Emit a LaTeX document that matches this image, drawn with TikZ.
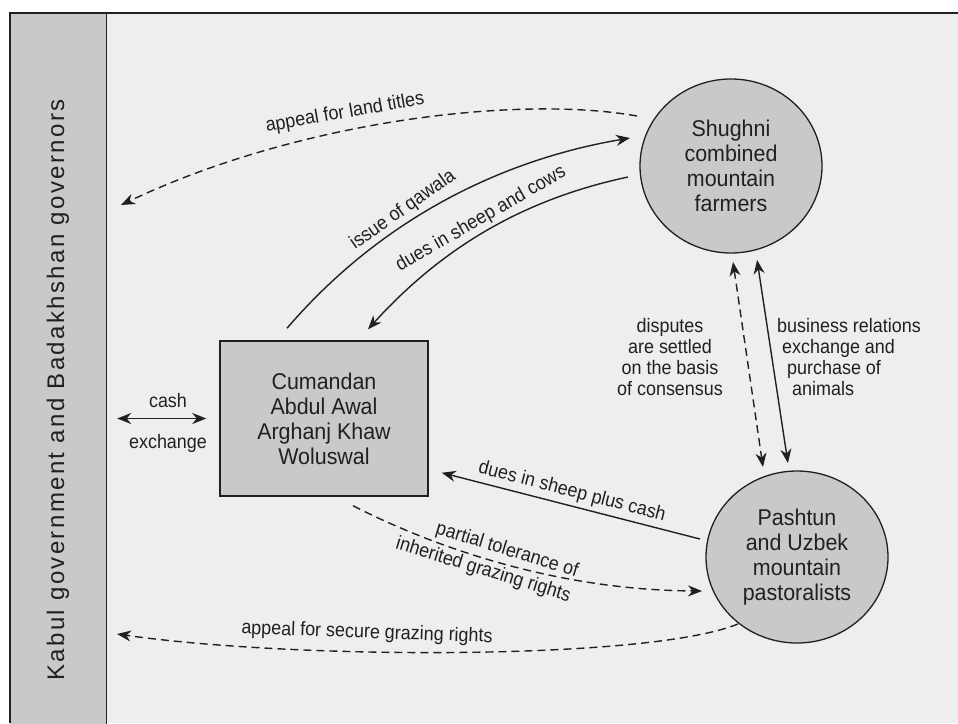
\documentclass[tikz,border=0pt]{standalone}
\usepackage{fontspec}
\setmainfont{Liberation Sans}
\newfontfamily\labfont[FakeStretch=0.92]{Liberation Sans}
\newfontfamily\nodefont[FakeStretch=0.94]{Liberation Sans}
\usetikzlibrary{arrows.meta,shapes.geometric,calc}
\definecolor{bg}{RGB}{238,238,238}
\definecolor{fillg}{RGB}{200,201,203}
\definecolor{ink}{RGB}{35,31,32}
\begin{document}
\begin{tikzpicture}[x=1pt,y=-1pt,
  >={Stealth[length=14pt,width=11pt,inset=4.5pt]},
  lab/.style={font=\labfont\fontsize{19.5}{21}\selectfont, inner sep=0pt, text=ink},
  conn/.style={draw=ink, line width=1.4pt},
  dsh/.style={dash pattern=on 8pt off 5pt},
  bubble/.style={ellipse, fill=fillg, draw=ink, line width=1.3pt, minimum width=182pt, inner sep=0pt, align=center, text=ink, font=\nodefont\fontsize{22.8}{25}\selectfont},
  boxnode/.style={rectangle, fill=fillg, draw=ink, line width=1.5pt, minimum width=208pt, minimum height=155pt, inner sep=0pt, align=center, text=ink, font=\nodefont\fontsize{22.8}{25}\selectfont}]
\useasboundingbox (0,0) rectangle (958,723);
\fill[white] (0,0) rectangle (958,723);
\fill[bg] (10,13) rectangle (958,723);
% left band
\node[rectangle, fill=fillg, inner sep=0pt, minimum width=96pt, minimum height=754pt] (band) at (58,390) {};
\node[rotate=90, inner sep=0pt, text=ink, font=\fontsize{24}{28}\selectfont\addfontfeature{LetterSpace=10}] (bandtext) at (band.center) {Kabul government and Badakhshan governors};
\draw[ink, line width=1pt] (band.north east) -- (band.south east);
\draw[ink, line width=2.5pt] (10,723) -- (10,13) -- (958,13);
% main nodes
\node[bubble, minimum height=174pt] (S) at (731,166) {Shughni\\combined\\mountain\\farmers};
\node[bubble, minimum height=172pt] (P) at (797,557) {Pashtun\\and Uzbek\\mountain\\pastoralists};
\node[boxnode] (B) at (324,418.5) {Cumandan\\Abdul Awal\\Arghanj Khaw\\Woluswal};
% free ends
\coordinate (lt) at (121,205);
\coordinate (sg) at (117,634);
% connectors
\draw[conn, dsh, ->] ($(S.center)+(152:106.5pt)$) .. controls (520,95) and (300,120) .. (lt);
\draw[conn, ->] ($(B.north)+(-37pt,12pt)$) .. controls (380,220) and (500,160) .. ($(S.center)+(164.5:104.8pt)$);
\draw[conn, ->] ($(S.center)+(186.1:103.6pt)$) .. controls (520,200) and (440,250) .. ($(B.north)+(44pt,11pt)$);
\draw[conn, <->] ($(band.east |- B.west)+(11pt,0pt)$) -- ($(B.west)+(-13pt,0pt)$);
\draw[conn, ->] ($(P.center)+(169.5:98.7pt)$) -- ($(B.south east)+(13pt,24pt)$);
\draw[conn, dsh, ->] ($(B.south)+(29pt,-9pt)$) .. controls (440,550) and (560,590) .. ($(P.center)+(199.7:100.9pt)$);
\draw[conn, dsh, ->] ($(P.center)+(228.6:89.3pt)$) .. controls (650,660) and (300,660) .. (sg);
\draw[conn, dsh, <->] ($(S.center)+(271.2:96pt)$) -- ($(P.center)+(110.7:96.2pt)$);
\draw[conn, <->] ($(S.center)+(285.5:97.5pt)$) -- ($(P.center)+(95.5:94.4pt)$);
% labels
\node[lab, rotate=10] (l1) at (345,113) {appeal for land titles};
\node[lab, rotate=35] (l2) at (403,210) {issue of qawala};
\node[lab, rotate=30] (l3) at (481,219) {dues in sheep and cows};
\node[lab, anchor=base] (l4) at (168,407) {cash};
\node[lab, anchor=base] (l5) at (168,448) {exchange};
\node[lab, rotate=-14.5] (l6) at (572,492) {dues in sheep plus cash};
\node[lab, rotate=-17, align=right, font=\labfont\fontsize{19.5}{26}\selectfont] (l7) at (487,558) {partial tolerance of\\inherited grazing rights};
\node[lab, rotate=-2] (l8) at (367,633) {appeal for secure grazing rights};
\node[lab, align=center] (l9) at (670,357) {disputes\\are settled\\on the basis\\of consensus};
\node[lab, align=left, anchor=west] (l10) at (777,357) {business relations\\\hspace*{5pt}exchange and\\\hspace*{10pt}purchase of\\\hspace*{15pt}animals};
\end{tikzpicture}
\end{document}
